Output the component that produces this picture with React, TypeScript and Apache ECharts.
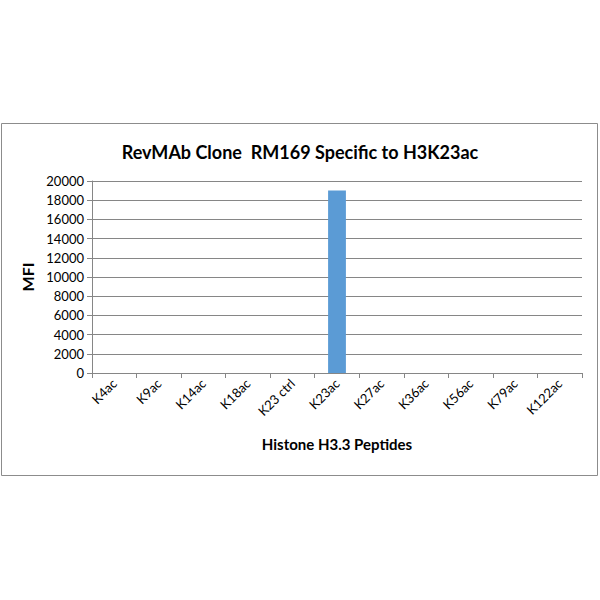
import React, { useEffect, useRef } from "react";
import * as echarts from "echarts";

const categories = [
  "K4ac",
  "K9ac",
  "K14ac",
  "K18ac",
  "K23 ctrl",
  "K23ac",
  "K27ac",
  "K36ac",
  "K56ac",
  "K79ac",
  "K122ac",
];
const mfiValues = [0, 0, 0, 0, 0, 19000, 0, 0, 0, 0, 0];

const FONT = "Lato";

const App = () => {
  const chartContainer = useRef<HTMLDivElement>(null);

  useEffect(() => {
    if (!chartContainer.current) return;
    const chart = echarts.init(chartContainer.current, null, { renderer: "svg" });

    const option: echarts.EChartsOption = {
      animation: false,
      backgroundColor: "#fff",
      title: {
        text: "RevMAb Clone  RM169 Specific to H3K23ac",
        left: "center",
        top: 138,
        textStyle: { fontFamily: FONT, fontSize: 18, fontWeight: "bold", color: "#000" },
      },
      graphic: [
        {
          type: "rect",
          shape: { x: 1.5, y: 123.5, width: 596, height: 352 },
          style: { fill: "none", stroke: "#8c8c8c", lineWidth: 1 },
          z: -1,
        },
      ],
      grid: { left: 92, right: 18, top: 181, bottom: 227 },
      xAxis: {
        type: "category",
        data: categories,
        name: "Histone H3.3 Peptides",
        nameLocation: "middle",
        nameGap: 63,
        nameTextStyle: { fontFamily: FONT, fontSize: 15, fontWeight: "bold", color: "#000" },
        axisLine: { lineStyle: { color: "#868686" } },
        axisTick: { show: true, length: 5, lineStyle: { color: "#868686" } },
        axisLabel: { rotate: 45, fontFamily: FONT, fontSize: 13, color: "#000", margin: 8, interval: 0 },
      },
      yAxis: {
        type: "value",
        min: 0,
        max: 20000,
        interval: 2000,
        name: "MFI",
        nameLocation: "middle",
        nameGap: 53,
        nameTextStyle: { fontFamily: FONT, fontSize: 16, fontWeight: "bold", color: "#000" },
        axisLine: { show: true, lineStyle: { color: "#868686" } },
        axisTick: { show: true, length: 5, lineStyle: { color: "#868686" } },
        axisLabel: {
          fontFamily: FONT,
          fontSize: 13,
          color: "#000",
          margin: 8,
          formatter: (v: number) => String(v),
        },
        splitLine: { lineStyle: { color: "#868686" } },
      },
      series: [
        {
          type: "bar",
          data: mfiValues,
          barWidth: "40%",
          itemStyle: { color: "#5b9bd5" },
        },
      ],
    };

    chart.setOption(option);
    return () => chart.dispose();
  }, []);

  return (
    <div
      ref={chartContainer}
      style={{ position: "absolute", left: 0, top: 0, width: 600, height: 600 }}
    />
  );
};

export default App;
